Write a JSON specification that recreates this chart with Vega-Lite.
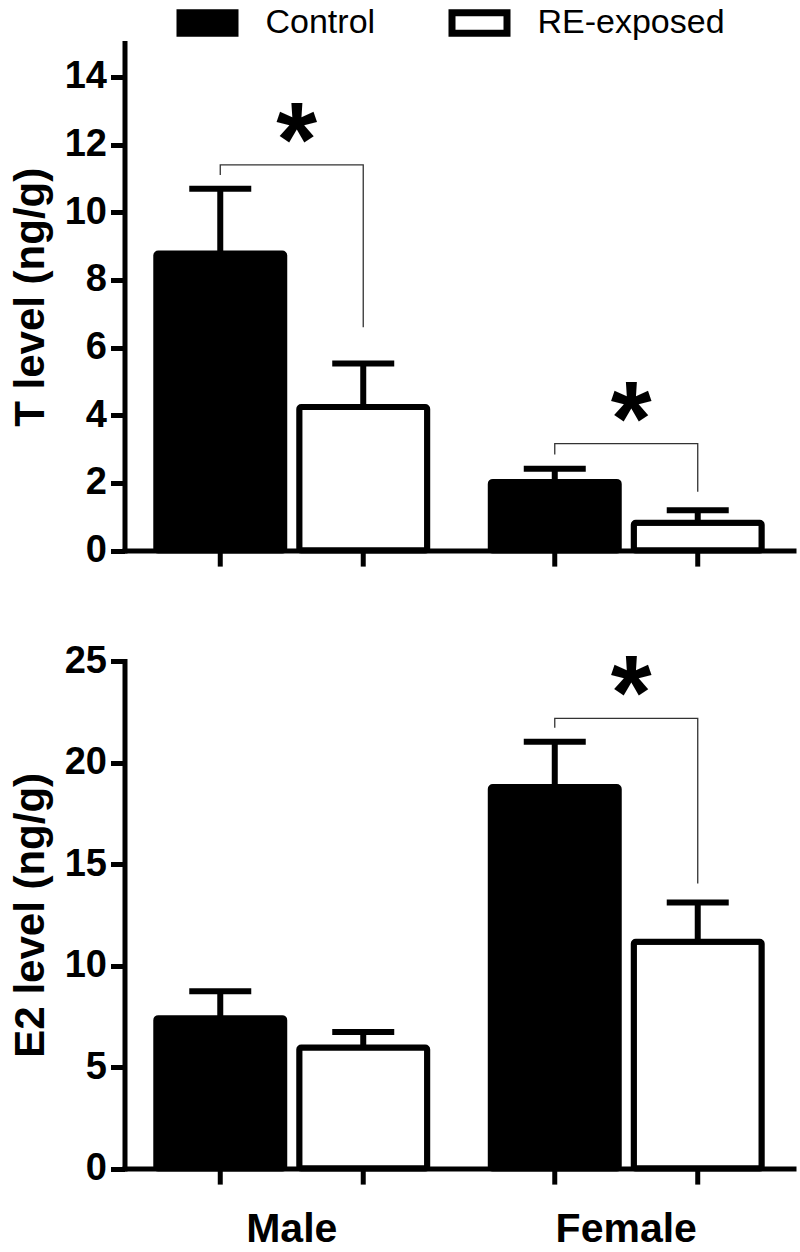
{
  "$schema": "https://vega.github.io/schema/vega-lite/v6.json",
  "background": "white",
  "padding": {"left": 8.5, "top": 5, "right": 5, "bottom": 5},
  "bounds": "flush",
  "spacing": 110,
  "config": {
    "font": "Liberation Sans",
    "view": {"stroke": null},
    "axis": {
      "domainColor": "black", "domainWidth": 5, "domainCap": "square",
      "tickColor": "black", "tickWidth": 5,
      "labelColor": "black", "titleColor": "black",
      "labelFont": "Liberation Sans", "titleFont": "Liberation Sans",
      "labelFontWeight": "bold", "titleFontWeight": "bold", "grid": false
    },
    "axisY": {"tickSize": 14, "labelFontSize": 38, "labelPadding": 4, "titleFontSize": 42, "titlePadding": 12},
    "axisX": {"ticks": false, "tickSize": 0, "labelFontSize": 41, "labelPadding": 41, "labelAngle": 0}
  },
  "datasets": {
    "t_bars": [
      {"sex": "Male", "group": "Control", "value": 8.78, "hi": 10.69},
      {"sex": "Male", "group": "RE-exposed", "value": 4.24, "hi": 5.53},
      {"sex": "Female", "group": "Control", "value": 2.03, "hi": 2.42},
      {"sex": "Female", "group": "RE-exposed", "value": 0.82, "hi": 1.19}
    ],
    "e_bars": [
      {"sex": "Male", "group": "Control", "value": 7.41, "hi": 8.74},
      {"sex": "Male", "group": "RE-exposed", "value": 5.96, "hi": 6.73},
      {"sex": "Female", "group": "Control", "value": 18.79, "hi": 21.02},
      {"sex": "Female", "group": "RE-exposed", "value": 11.17, "hi": 13.1}
    ],
    "t_br": [
      {"id": "m", "ord": 1, "sex": "Male", "group": "Control", "value": 11.1},
      {"id": "m", "ord": 2, "sex": "Male", "group": "Control", "value": 11.4},
      {"id": "m", "ord": 3, "sex": "Male", "group": "RE-exposed", "value": 11.4},
      {"id": "m", "ord": 4, "sex": "Male", "group": "RE-exposed", "value": 6.6},
      {"id": "f", "ord": 1, "sex": "Female", "group": "Control", "value": 2.84},
      {"id": "f", "ord": 2, "sex": "Female", "group": "Control", "value": 3.16},
      {"id": "f", "ord": 3, "sex": "Female", "group": "RE-exposed", "value": 3.16},
      {"id": "f", "ord": 4, "sex": "Female", "group": "RE-exposed", "value": 1.74}
    ],
    "e_br": [
      {"id": "f", "ord": 1, "sex": "Female", "group": "Control", "value": 21.71},
      {"id": "f", "ord": 2, "sex": "Female", "group": "Control", "value": 22.17},
      {"id": "f", "ord": 3, "sex": "Female", "group": "RE-exposed", "value": 22.17},
      {"id": "f", "ord": 4, "sex": "Female", "group": "RE-exposed", "value": 14.04}
    ],
    "t_star": [
      {"sex": "Male", "value": 11.4},
      {"sex": "Female", "value": 3.16}
    ],
    "e_star": [
      {"sex": "Female", "value": 22.17}
    ]
  },
  "vconcat": [
    {
      "width": 669,
      "height": 507.6,
      "encoding": {
        "x": {"field": "sex", "type": "nominal", "sort": ["Male", "Female"], "scale": {"paddingInner": 0.19, "paddingOuter": 0.095}, "axis": {"labels": false, "title": null}},
        "xOffset": {"field": "group", "type": "nominal", "sort": ["Control", "RE-exposed"], "scale": {"paddingInner": 0.105, "paddingOuter": 0}}
      },
      "layer": [
        {
          "data": {"name": "t_bars"},
          "mark": {"type": "tick", "orient": "vertical", "size": 16, "thickness": 5, "yOffset": 8, "color": "black", "opacity": 1},
          "encoding": {
            "y": {"datum": 0, "type": "quantitative", "scale": {"domain": [0, 15], "nice": false}, "axis": {"values": [0, 2, 4, 6, 8, 10, 12, 14], "title": "T level (ng/g)"}}
          }
        },
        {
          "data": {"name": "t_bars"},
          "mark": {"type": "bar", "stroke": "black", "strokeWidth": 6, "cornerRadius": 2, "opacity": 1},
          "encoding": {
            "y": {"field": "value", "type": "quantitative", "title": "T level (ng/g)"},
            "fill": {"field": "group", "type": "nominal", "scale": {"domain": ["Control", "RE-exposed"], "range": ["black", "white"]},
              "legend": {"orient": "none", "legendX": 66, "legendY": -37.4, "direction": "horizontal", "title": null,
                "symbolType": "M-2.2,-0.82H2.2V0.82H-2.2Z", "symbolSize": 625, "symbolStrokeColor": "black", "symbolStrokeWidth": 7,
                "labelFontSize": 34, "labelFont": "Liberation Sans", "labelColor": "black", "labelOffset": 41, "columnPadding": 62, "labelLimit": 0}}
          }
        },
        {
          "data": {"name": "t_bars"},
          "mark": {"type": "rule", "color": "black", "strokeWidth": 6, "opacity": 1},
          "encoding": {
            "y": {"field": "value", "type": "quantitative", "title": "T level (ng/g)"},
            "y2": {"field": "hi"}
          }
        },
        {
          "data": {"name": "t_bars"},
          "mark": {"type": "tick", "orient": "horizontal", "size": 62, "thickness": 6, "color": "black", "opacity": 1},
          "encoding": {
            "y": {"field": "hi", "type": "quantitative", "title": "T level (ng/g)"}
          }
        },
        {
          "data": {"name": "t_br"},
          "mark": {"type": "line", "color": "#333333", "strokeWidth": 1.3},
          "encoding": {
            "y": {"field": "value", "type": "quantitative", "title": "T level (ng/g)"},
            "detail": {"field": "id"},
            "order": {"field": "ord", "type": "quantitative"}
          }
        },
        {
          "data": {"name": "t_star"},
          "mark": {"type": "text", "text": "*", "fontSize": 105, "fontWeight": "bold", "baseline": "alphabetic", "dy": 11, "dx": 5, "color": "black"},
          "encoding": {
            "xOffset": null,
            "y": {"field": "value", "type": "quantitative", "title": "T level (ng/g)"}
          }
        }
      ]
    },
    {
      "width": 669,
      "height": 507.6,
      "encoding": {
        "x": {"field": "sex", "type": "nominal", "sort": ["Male", "Female"], "scale": {"paddingInner": 0.19, "paddingOuter": 0.095}, "axis": {"title": null}},
        "xOffset": {"field": "group", "type": "nominal", "sort": ["Control", "RE-exposed"], "scale": {"paddingInner": 0.105, "paddingOuter": 0}}
      },
      "layer": [
        {
          "data": {"name": "e_bars"},
          "mark": {"type": "tick", "orient": "vertical", "size": 16, "thickness": 5, "yOffset": 8, "color": "black", "opacity": 1},
          "encoding": {
            "y": {"datum": 0, "type": "quantitative", "scale": {"domain": [0, 25], "nice": false}, "axis": {"values": [0, 5, 10, 15, 20, 25], "title": "E2 level (ng/g)"}}
          }
        },
        {
          "data": {"name": "e_bars"},
          "mark": {"type": "bar", "stroke": "black", "strokeWidth": 6, "cornerRadius": 2, "opacity": 1},
          "encoding": {
            "y": {"field": "value", "type": "quantitative", "title": "E2 level (ng/g)"},
            "fill": {"field": "group", "type": "nominal", "scale": {"domain": ["Control", "RE-exposed"], "range": ["black", "white"]},
              "legend": {"orient": "none", "legendX": 66, "legendY": -37.4, "direction": "horizontal", "title": null,
                "symbolType": "M-2.2,-0.82H2.2V0.82H-2.2Z", "symbolSize": 625, "symbolStrokeColor": "black", "symbolStrokeWidth": 7,
                "labelFontSize": 34, "labelFont": "Liberation Sans", "labelColor": "black", "labelOffset": 41, "columnPadding": 62, "labelLimit": 0}}
          }
        },
        {
          "data": {"name": "e_bars"},
          "mark": {"type": "rule", "color": "black", "strokeWidth": 6, "opacity": 1},
          "encoding": {
            "y": {"field": "value", "type": "quantitative", "title": "E2 level (ng/g)"},
            "y2": {"field": "hi"}
          }
        },
        {
          "data": {"name": "e_bars"},
          "mark": {"type": "tick", "orient": "horizontal", "size": 62, "thickness": 6, "color": "black", "opacity": 1},
          "encoding": {
            "y": {"field": "hi", "type": "quantitative", "title": "E2 level (ng/g)"}
          }
        },
        {
          "data": {"name": "e_br"},
          "mark": {"type": "line", "color": "#333333", "strokeWidth": 1.3},
          "encoding": {
            "y": {"field": "value", "type": "quantitative", "title": "E2 level (ng/g)"},
            "detail": {"field": "id"},
            "order": {"field": "ord", "type": "quantitative"}
          }
        },
        {
          "data": {"name": "e_star"},
          "mark": {"type": "text", "text": "*", "fontSize": 105, "fontWeight": "bold", "baseline": "alphabetic", "dy": 11, "dx": 5, "color": "black"},
          "encoding": {
            "xOffset": null,
            "y": {"field": "value", "type": "quantitative", "title": "E2 level (ng/g)"}
          }
        }
      ]
    }
  ]
}
